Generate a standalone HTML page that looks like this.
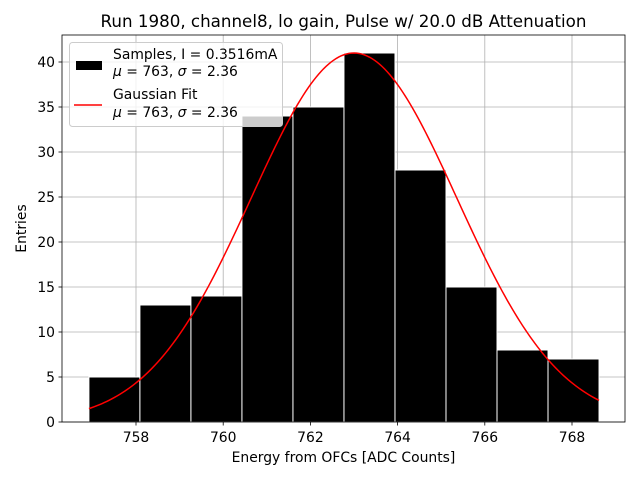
<!DOCTYPE html>
<html><head><meta charset="utf-8"><style>
body{margin:0;background:#fff;}
svg{font-family:"DejaVu Sans","Liberation Sans",sans-serif;}
</style></head><body>
<svg id="c" width="640" height="480" xmlns="http://www.w3.org/2000/svg">
<rect width="640" height="480" fill="#fff"/>
<text x="343.5" y="27" font-size="16.7" text-anchor="middle">Run 1980, channel8, lo gain, Pulse w/ 20.0 dB Attenuation</text>
<g id="grid"></g><g id="bars"></g><g id="fit"></g><g id="axes"></g>
<text x="343.5" y="462" font-size="13.9" text-anchor="middle">Energy from OFCs [ADC Counts]</text>
<text transform="translate(26,228.5) rotate(-90)" font-size="13.9" text-anchor="middle">Entries</text>
<g>
<rect x="69.5" y="42.5" width="213" height="84" rx="3" fill="#fff" fill-opacity="0.8" stroke="#ccc"/>
<rect x="76" y="61" width="26" height="9" fill="#000"/>
<text x="113" y="59" font-size="13.9">Samples, I = 0.3516mA</text>
<text x="113" y="76" font-size="13.9"><tspan font-style="italic">μ</tspan> = 763, <tspan font-style="italic">σ</tspan> = 2.36</text>
<line x1="74" y1="105" x2="102" y2="105" stroke="red" stroke-width="1.5"/>
<text x="113" y="99" font-size="13.9">Gaussian Fit</text>
<text x="113" y="117" font-size="13.9"><tspan font-style="italic">μ</tspan> = 763, <tspan font-style="italic">σ</tspan> = 2.36</text>
</g>
</svg>
<script>
const binStart = 756.92;
const binWidth = 1.17;
const counts = [5,13,14,34,35,41,28,15,8,7];
const xTicks = [758,760,762,764,766,768];
const yTicks = [0,5,10,15,20,25,30,35,40];
const fitMu = 763, fitSigma = 2.36, fitAmp = 41;
const NS='http://www.w3.org/2000/svg';
const L=62,R=625,T=35,B=422;
const xs=v=>136+(v-758)*43.6;
const ys=v=>B-v*9;
function mk(t,a,p){const e=document.createElementNS(NS,t);for(const k in a)e.setAttribute(k,a[k]);p.appendChild(e);return e;}
const grid=document.getElementById('grid'),bars=document.getElementById('bars'),fit=document.getElementById('fit'),axes=document.getElementById('axes');
xTicks.forEach(t=>{const x=xs(t);
 const g=mk('line',{x1:x,x2:x,y1:T,y2:B,stroke:'#b0b0b0','stroke-width':0.8},grid);
 
 
 mk('line',{x1:x,x2:x,y1:B,y2:B+3.5,stroke:'#000','stroke-width':0.8},axes);
 const tx=mk('text',{x:x,y:B+20,'font-size':13.9,'text-anchor':'middle'},axes);tx.textContent=t;
 
 
});
yTicks.forEach(t=>{const y=ys(t);
 const g=mk('line',{x1:L,x2:R,y1:y,y2:y,stroke:'#b0b0b0','stroke-width':0.8},grid);
 
 
 mk('line',{x1:L-3.5,x2:L,y1:y,y2:y,stroke:'#000','stroke-width':0.8},axes);
 const tx=mk('text',{x:L-7,y:y+5,'font-size':13.9,'text-anchor':'end'},axes);tx.textContent=t;
 
 
});
counts.forEach((c,i)=>{const x0=xs(binStart+i*binWidth),x1=xs(binStart+(i+1)*binWidth);
 const r=mk('rect',{x:x0,y:ys(c),width:x1-x0,height:B-ys(c),fill:'#000',stroke:'#fff','stroke-width':1},bars);
 
 
});
let d='';const a=binStart,b=binStart+counts.length*binWidth;
for(let i=0;i<=200;i++){const v=a+(b-a)*i/200;const y=fitAmp*Math.exp(-((v-fitMu)**2)/(2*fitSigma*fitSigma));d+=(i?'L':'M')+xs(v).toFixed(2)+' '+ys(y).toFixed(2);}
const p=mk('path',{d:d,fill:'none',stroke:'red','stroke-width':1.5},fit);


const f=mk('rect',{x:L,y:T,width:R-L,height:B-T,fill:'none',stroke:'#000','stroke-width':0.8},axes);


</script>
</body></html>
